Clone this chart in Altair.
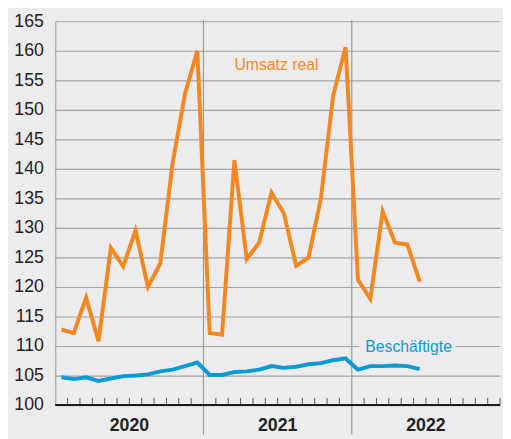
import altair as alt
import pandas as pd

# Monthly values, Jan 2020 .. Jun 2022
umsatz_real = [112.8, 112.2, 118.2, 110.8, 126.6, 123.5, 129.6, 120.0, 124.0, 141.0, 152.7, 160.0,
               112.2, 111.9, 141.5, 124.7, 127.5, 136.0, 132.5, 123.6, 125.0, 135.0, 152.5, 160.6,
               121.2, 118.0, 132.8, 127.5, 127.2, 120.9]
beschaeftigte = [104.7, 104.4, 104.7, 104.1, 104.5, 104.9, 105.0, 105.2, 105.7, 106.0, 106.6, 107.2,
                 105.1, 105.1, 105.6, 105.7, 106.0, 106.6, 106.3, 106.5, 106.9, 107.1, 107.6, 107.9,
                 106.0, 106.6, 106.6, 106.7, 106.6, 106.1]
years = ["2020", "2021", "2022"]
y_ticks = list(range(100, 170, 5))

BG = "#ececee"
ORANGE = "#f5871f"
BLUE = "#0b9ad6"
GRID = "#a3a3a6"

W, H = 452, 390
n_months = 36

df = pd.DataFrame({
    "m": [i + 0.5 for i in range(len(umsatz_real))],
    "umsatz": umsatz_real,
    "besch": beschaeftigte,
})
tick_pos = [i for i in range(1, n_months + 1) if i % 12 != 0] + [n_months]
ticks_df = pd.DataFrame({"m": tick_pos, "v": [100] * len(tick_pos), "v2": [101.2] * len(tick_pos)})
sep_df = pd.DataFrame({"m": [12, 24]})
years_df = pd.DataFrame({"m": [6 + 12 * i for i in range(len(years))], "year": years})
labels_df = pd.DataFrame({
    "m": [17.9, 28.6],
    "v": [157.5, 109.8],
    "txt": ["Umsatz real", "Beschäftigte"],
    "c": [ORANGE, BLUE],
})
box_df = pd.DataFrame({"m": [24.6], "m2": [32.4], "v": [108.9], "v2": [110.8]})
base_df = pd.DataFrame({"m": [0], "m2": [n_months], "v": [100]})

xs = alt.Scale(domain=[0, n_months], nice=False, zero=False)
ys = alt.Scale(domain=[100, 165], nice=False, zero=False)

yaxis = alt.Axis(values=y_ticks, grid=True, gridColor=GRID, gridWidth=1.2, ticks=False,
                 labelFontSize=18, labelColor="#222222", labelPadding=12, domain=True,
                 labelOverlap=False, labelFlush=False,
                 domainColor=GRID, domainWidth=1.2, title=None, labelFont="Liberation Sans")


def Y(field):
    return alt.Y(field, scale=ys, axis=yaxis)


box = alt.Chart(box_df).mark_rect(color=BG).encode(
    x=alt.X("m:Q", scale=xs, axis=None), x2="m2:Q",
    y=Y("v:Q"), y2="v2:Q",
)

seps = alt.Chart(sep_df).mark_rule(color="#9a9a9d", strokeWidth=1.2).encode(
    x=alt.X("m:Q", scale=xs, axis=None), y=alt.value(-1), y2=alt.value(H + 30),
)

tick_marks = alt.Chart(ticks_df).mark_rule(color="#555555", strokeWidth=1).encode(
    x=alt.X("m:Q", scale=xs, axis=None), y=Y("v:Q"), y2="v2:Q",
)

baseline = alt.Chart(base_df).mark_rule(color="#1a1a1a", strokeWidth=2).encode(
    x=alt.X("m:Q", scale=xs, axis=None), x2="m2:Q", y=Y("v:Q"),
)

line_b = alt.Chart(df).mark_line(color=BLUE, strokeWidth=4, strokeJoin="miter").encode(
    x=alt.X("m:Q", scale=xs, axis=None), y=Y("besch:Q"),
)
line_u = alt.Chart(df).mark_line(color=ORANGE, strokeWidth=4, strokeJoin="miter").encode(
    x=alt.X("m:Q", scale=xs, axis=None), y=Y("umsatz:Q"),
)

year_text = alt.Chart(years_df).mark_text(fontSize=18, fontWeight="bold", color="#222222",
                                          font="Liberation Sans", baseline="middle").encode(
    x=alt.X("m:Q", scale=xs, axis=None), y=alt.value(H + 21), text="year:N",
)

series_text = alt.Chart(labels_df).mark_text(fontSize=16, font="Liberation Sans",
                                             baseline="middle").encode(
    x=alt.X("m:Q", scale=xs, axis=None), y=Y("v:Q"), text="txt:N",
    color=alt.Color("c:N", scale=None),
)

chart = alt.layer(box, seps, tick_marks, baseline, line_b, line_u,
                  year_text, series_text).properties(
    width=W, height=H,
    autosize=alt.AutoSizeParams(type="none"),
    padding={"left": 48, "top": 10, "right": 3, "bottom": 31},
    background=BG,
).configure_view(stroke=None)

chart.save("out.html", embed_options={"renderer": "svg", "actions": False})
